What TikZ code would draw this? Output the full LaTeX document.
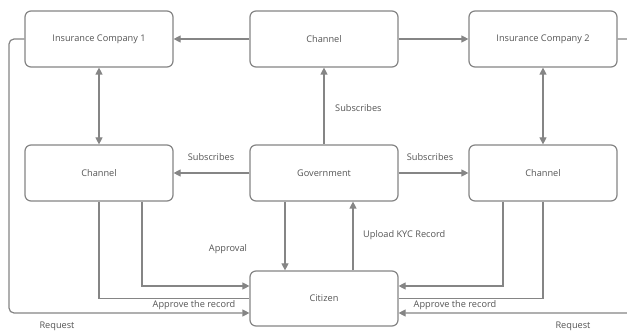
\documentclass[tikz,border=0pt]{standalone}
\usepackage{fontspec}
\setmainfont{Open Sans}
\usetikzlibrary{arrows.meta}
\definecolor{linegray}{HTML}{858585}
\definecolor{textgray}{HTML}{555555}

\begin{document}
\begin{tikzpicture}[x=1pt,y=-1pt,
	box/.style={draw=linegray, line width=1.2pt, rounded corners=6pt, minimum width=148pt, minimum height=56pt, text=textgray, font=\fontsize{9.2}{11}\selectfont},
	lbl/.style={text=textgray, font=\fontsize{9.2}{11}\selectfont, inner sep=0pt},
	arr/.style={draw=linegray, line width=1.2pt, -{Triangle[length=7pt,width=7pt]}},
	dbl/.style={draw=linegray, line width=1.2pt, {Triangle[length=7pt,width=7pt]}-{Triangle[length=7pt,width=7pt]}},
	ln/.style={draw=linegray, line width=1.2pt}]
\clip (0,0) rectangle (627,331);
\fill[white] (0,0) rectangle (627,331);
% boxes
\node [box] (ic1) at (99,39) {Insurance Company 1};
\node [box] (ch) at (324,39) {Channel};
\node [box] (ic2) at (543,39) {Insurance Company 2};
\node [box] (chl) at (99,173) {Channel};
\node [box] (gov) at (324,173) {Government};
\node [box] (chr) at (543,173) {Channel};
\node [box, minimum height=55pt] (cit) at (324,298.5) {Citizen};
% free ends of the request lines
\coordinate (reqL) at (9,313);
\coordinate (reqR) at (645,313);
% connectors
\draw [arr] (ch) -- (ic1);
\draw [arr] (ch) -- (ic2);
\draw [dbl] (ic1) -- (chl);
\draw [dbl] (ic2) -- (chr);
\draw [arr] (gov) -- (ch);
\draw [arr] (gov) -- (chl);
\draw [arr] (gov) -- (chr);
\draw [arr] ([xshift=-39pt]gov.south) -- ([xshift=-39pt]cit.north);
\draw [arr] ([xshift=29pt]cit.north) -- ([xshift=29pt]gov.south);
\draw [arr] ([xshift=43pt]chl.south) |- ([yshift=12.5pt]cit.west);
\draw [ln] (chl.south) |- (cit.west);
\draw [arr] ([xshift=-40pt]chr.south) |- ([yshift=12.5pt]cit.east);
\draw [ln] (chr.south) |- (cit.east);
\draw [arr, rounded corners=5pt] (ic1.west) -| (reqL) -- ([yshift=-14.5pt]cit.west);
\draw [arr, rounded corners=5pt] (ic2.east) -| (reqR) -- ([yshift=-14.5pt]cit.east);
% labels
\node [lbl, anchor=west] (sub1) at (335,108) {Subscribes};
\node [lbl] (sub2) at (211,157) {Subscribes};
\node [lbl] (sub3) at (430,157) {Subscribes};
\node [lbl, anchor=west] (kyc) at (363,235) {Upload KYC Record};
\node [lbl] (appr) at (228,249) {Approval};
\node [lbl] (recL) at (194,305) {Approve the record};
\node [lbl] (recR) at (455,305) {Approve the record};
\node [lbl] (reqLl) at (57,326) {Request};
\node [lbl] (reqRl) at (573,326) {Request};
\end{tikzpicture}
\end{document}
